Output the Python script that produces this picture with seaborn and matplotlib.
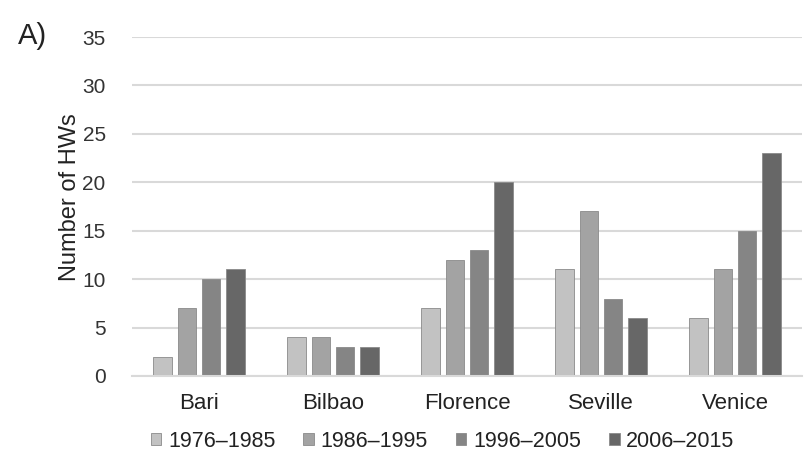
import matplotlib
matplotlib.use("Agg")
import matplotlib.pyplot as plt
import seaborn as sns
import pandas as pd

cities = ["Bari", "Bilbao", "Florence", "Seville", "Venice"]
periods = ["1976\u20131985", "1986\u20131995", "1996\u20132005", "2006\u20132015"]
v1976 = [2, 4, 7, 11, 6]
v1986 = [7, 4, 12, 17, 11]
v1996 = [10, 3, 13, 8, 15]
v2006 = [11, 3, 20, 6, 23]
yticks = [0, 5, 10, 15, 20, 25, 30, 35]
colors = ["#c2c2c2", "#a3a3a3", "#858585", "#676767"]

rows = []
for p, vals in zip(periods, [v1976, v1986, v1996, v2006]):
    for c, v in zip(cities, vals):
        rows.append({"City": c, "Period": p, "HWs": v})
df = pd.DataFrame(rows)

sns.set_theme(style="white")
plt.rcParams["font.family"] = ["Liberation Sans", "DejaVu Sans"]

fig = plt.figure(figsize=(8.07, 4.68), dpi=100)
ax = fig.add_axes([0.1636, 0.1966, 0.8302, 0.7243])

sns.barplot(data=df, x="City", y="HWs", hue="Period", order=cities,
            hue_order=periods, palette=colors, width=0.72, gap=0.22,
            edgecolor="#8a8a8a", linewidth=0.6, ax=ax, legend=True)

ax.set_ylim(0, 35)
ax.set_yticks(yticks)
ax.set_yticklabels([str(t) for t in yticks], fontsize=15, color="#333333")
ax.yaxis.grid(True, color="#d9d9d9", linewidth=1.5)
ax.set_axisbelow(True)
for s in ["top", "right", "left"]:
    ax.spines[s].set_visible(False)
ax.spines["bottom"].set_color("#d9d9d9")
ax.spines["bottom"].set_linewidth(1.5)
ax.tick_params(axis="y", length=0, pad=19)
ax.tick_params(axis="x", length=0, pad=12, labelsize=16, labelcolor="#222222")
ax.set_xlabel("")
ax.set_ylabel("Number of HWs", fontsize=17, color="#222222")
ax.yaxis.set_label_coords(-0.076, 0.5265)

leg = ax.legend(loc="upper center", bbox_to_anchor=(0.4634, -0.105), ncol=4,
                frameon=False, fontsize=15.5, handlelength=0.5, handleheight=0.5,
                handletextpad=0.3, columnspacing=1.3)
for t in leg.get_texts():
    t.set_color("#222222")

fig.text(0.022, 0.905, "A)", fontsize=21, color="#222222")
fig.savefig("out.png", dpi=100, facecolor="white")
